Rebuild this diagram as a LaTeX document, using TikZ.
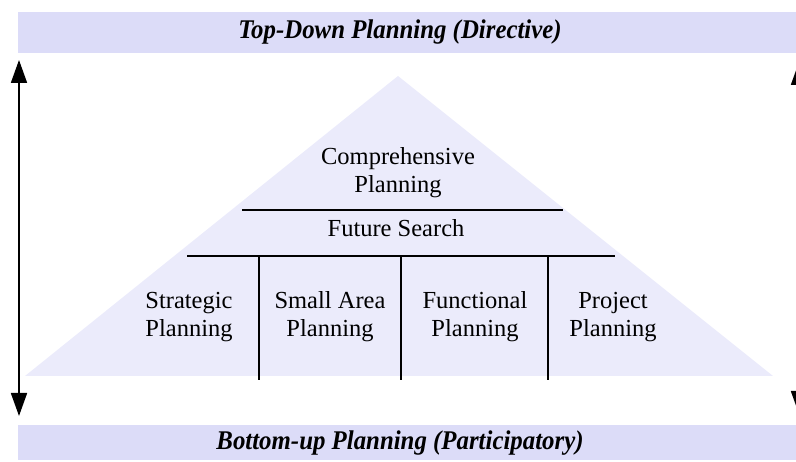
\documentclass[tikz,border=0pt]{standalone}
\usepackage{fontspec}
\setmainfont{Liberation Serif}
\usetikzlibrary{arrows.meta}
\definecolor{barfill}{HTML}{DCDCF8}
\definecolor{trifill}{HTML}{EBEBFB}
\tikzset{
  bar/.style={fill=barfill, draw=none},
  title/.style={font=\fontsize{27}{29}\selectfont\bfseries\itshape, inner sep=0pt},
  lbl/.style={font=\fontsize{24.5}{28.5}\selectfont, align=center, inner sep=0pt, anchor=base},
  divider/.style={line width=1.8pt, black},
  bigarrow/.style={line width=1.8pt, {Triangle[length=23pt,width=16pt]}-{Triangle[length=23pt,width=16pt]}}
}
\begin{document}
\begin{tikzpicture}[x=1pt,y=-1pt]
\useasboundingbox (0,0) rectangle (796,462);
% bars
\fill[bar] (18,12) rectangle (796,53);
\fill[bar] (18,425) rectangle (796,460);
\node[title] (top) at (400,32.5) {\scalebox{0.92}[1]{Top-Down Planning (Directive)}};
\node[title] (bottom) at (400,443) {\scalebox{0.92}[1]{Bottom-up Planning (Participatory)}};
% triangle
\fill[trifill] (398,76) -- (773,376) -- (25,376) -- cycle;
% arrows
\coordinate (la) at (19,60);
\coordinate (lb) at (19,416);
\coordinate (ra) at (799,62);
\coordinate (rb) at (799,414);
\draw[bigarrow] (lb) -- (la);
\draw[bigarrow] (rb) -- (ra);
% dividers
\coordinate (h1a) at (242,210); \coordinate (h1b) at (563,210);
\coordinate (h2a) at (187,256); \coordinate (h2b) at (615,256);
\draw[divider] (h1a) -- (h1b);
\draw[divider] (h2a) -- (h2b);
\coordinate (v1t) at (259,256); \coordinate (v1b) at (259,380);
\coordinate (v2t) at (401,256); \coordinate (v2b) at (401,380);
\coordinate (v3t) at (548,256); \coordinate (v3b) at (548,380);
\draw[divider] (v1t) -- (v1b);
\draw[divider] (v2t) -- (v2b);
\draw[divider] (v3t) -- (v3b);
% labels (anchor = baseline of last line)
\node[lbl] (comp) at (398,193) {Comprehensive\\Planning};
\node[lbl] (fs) at (396,237) {Future Search};
\node[lbl] (strat) at (189,337) {Strategic\\Planning};
\node[lbl] (small) at (330,337) {Small Area\\Planning};
\node[lbl] (func) at (475,337) {Functional\\Planning};
\node[lbl] (proj) at (613,337) {Project\\Planning};
\end{tikzpicture}
\end{document}
